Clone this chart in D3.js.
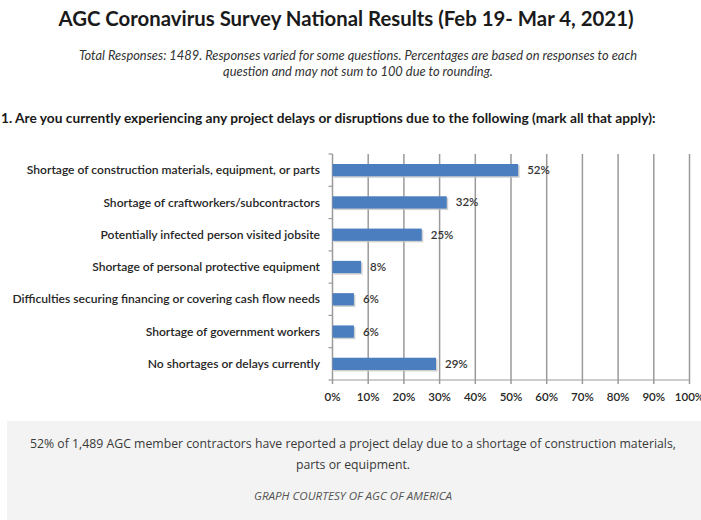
<!DOCTYPE html>
<html><head><meta charset="utf-8">
<script src="https://cdn.jsdelivr.net/npm/d3@7"></script>
<style>
html,body{margin:0;padding:0;background:#fff;}
svg{display:block;}
</style></head>
<body>
<svg id="chart" width="701" height="520"></svg>
<script>
const categories = [
  "Shortage of construction materials, equipment, or parts",
  "Shortage of craftworkers/subcontractors",
  "Potentially infected person visited jobsite",
  "Shortage of personal protective equipment",
  "Difficulties securing financing or covering cash flow needs",
  "Shortage of government workers",
  "No shortages or delays currently"
];
const values = [52, 32, 25, 8, 6, 6, 29];
const valueLabels = ["52%", "32%", "25%", "8%", "6%", "6%", "29%"];
const xTicks = [0, 10, 20, 30, 40, 50, 60, 70, 80, 90, 100];

const titleText = "AGC Coronavirus Survey National Results (Feb 19- Mar 4, 2021)";
const subtitleLines = [
  "Total Responses: 1489. Responses varied for some questions. Percentages are based on responses to each",
  "question and may not sum to 100 due to rounding."
];
const questionText = "1. Are you currently experiencing any project delays or disruptions due to the following (mark all that apply):";
const captionLines = [
  "52% of 1,489 AGC member contractors have reported a project delay due to a shortage of construction materials,",
  "parts or equipment."
];
const creditText = "GRAPH COURTESY OF AGC OF AMERICA";

const svg = d3.select("#chart");
const chartFont = "Lato, 'Open Sans', sans-serif";

function fitWidth(sel, target) {
  const node = sel.node();
  let fs = parseFloat(sel.attr("font-size"));
  for (let i = 0; i < 3; i++) {
    const w = node.getComputedTextLength();
    if (w > 0) { fs = fs * target / w; sel.attr("font-size", fs.toFixed(2)); }
  }
}

// Title
const t = svg.append("text").attr("x", 346).attr("y", 26).attr("text-anchor", "middle")
  .attr("font-family", chartFont).attr("font-weight", 700).attr("font-size", 18)
  .attr("fill", "#1a1a1a").text(titleText);
fitWidth(t, 575);

subtitleLines.forEach((s, i) => {
  const st = svg.append("text").attr("x", 358).attr("y", 60 + i * 16).attr("text-anchor", "middle")
    .attr("font-family", chartFont).attr("font-style", "italic").attr("font-size", 11)
    .attr("fill", "#333").text(s);
  if (i === 0) fitWidth(st, 558);
  else st.attr("font-size", svg.select("text:nth-of-type(2)").attr("font-size"));
});

const q = svg.append("text").attr("x", 1).attr("y", 123)
  .attr("font-family", chartFont).attr("font-weight", 700).attr("font-size", 13)
  .attr("fill", "#1a1a1a").text(questionText);
fitWidth(q, 654);

// Chart
const x = d3.scaleLinear().domain([0, 100]).range([332.5, 689.5]);
const y = d3.scaleBand().domain(categories).range([154, 380]).paddingInner(0.62).paddingOuter(0.31);

const g = svg.append("g");

// Gridlines
g.selectAll("line.grid").data(xTicks).join("line")
  .attr("x1", d => x(d)).attr("x2", d => x(d))
  .attr("y1", 154).attr("y2", 384)
  .attr("stroke", "#9a9a9a").attr("stroke-width", 1.5);

// bottom axis line
g.append("line").attr("x1", x(0)).attr("x2", x(100)).attr("y1", 380).attr("y2", 380)
  .attr("stroke", "#9a9a9a").attr("stroke-width", 1.2);

// Left ticks at category boundaries
const step = y.step();
const boundaries = d3.range(categories.length + 1).map(i => 154 + i * (226 / categories.length));
g.selectAll("line.ltick").data(boundaries).join("line")
  .attr("x1", x(0) - 4).attr("x2", x(0))
  .attr("y1", d => d).attr("y2", d => d)
  .attr("stroke", "#9a9a9a").attr("stroke-width", 1.2);

// bar shadows
g.selectAll("rect.shadow").data(values).join("rect")
  .attr("x", x(0) + 1.5).attr("y", (d, i) => y(categories[i]) + 1.5)
  .attr("width", d => x(d) - x(0)).attr("height", y.bandwidth())
  .attr("fill", "#c4c4c4").attr("opacity", 0.8);

// bars
g.selectAll("rect.bar").data(values).join("rect")
  .attr("x", x(0)).attr("y", (d, i) => y(categories[i]))
  .attr("width", d => x(d) - x(0)).attr("height", y.bandwidth())
  .attr("fill", "#4a7ebf");

// value labels
g.selectAll("text.val").data(values).join("text")
  .attr("x", d => x(d) + 9).attr("y", (d, i) => y(categories[i]) + y.bandwidth() / 2 + 1)
  .attr("dominant-baseline", "middle")
  .attr("font-family", chartFont).attr("font-weight", 600).attr("font-size", 11.5)
  .attr("fill", "#333").text((d, i) => valueLabels[i]);

// category labels
const catLabels = g.selectAll("text.cat").data(categories).join("text")
  .attr("x", 320).attr("y", d => y(d) + y.bandwidth() / 2 + 1)
  .attr("text-anchor", "end").attr("dominant-baseline", "middle")
  .attr("font-family", chartFont).attr("font-weight", 600).attr("font-size", 11.5)
  .attr("fill", "#262626").text(d => d);
fitWidth(d3.select(catLabels.nodes()[0]), 293);
catLabels.attr("font-size", d3.select(catLabels.nodes()[0]).attr("font-size"));

// x tick labels
g.selectAll("text.xt").data(xTicks).join("text")
  .attr("x", d => x(d)).attr("y", 398).attr("text-anchor", "middle").attr("dominant-baseline", "middle")
  .attr("font-family", chartFont).attr("font-weight", 600).attr("font-size", 11.5)
  .attr("fill", "#262626").text(d => d + "%");

// caption box
svg.append("rect").attr("x", 7).attr("y", 421).attr("width", 694).attr("height", 99).attr("fill", "#f3f3f3");
captionLines.forEach((s, i) => {
  const c = svg.append("text").attr("x", 353).attr("y", 448 + i * 21).attr("text-anchor", "middle")
    .attr("font-family", "'Open Sans', Lato, sans-serif").attr("font-size", 12.5)
    .attr("fill", "#3a3a3a").attr("class", "cap").text(s);
  if (i === 0) fitWidth(c, 646);
});
const capFs = svg.select("text.cap").attr("font-size");
svg.selectAll("text.cap").attr("font-size", capFs);

const cr = svg.append("text").attr("x", 353).attr("y", 500).attr("text-anchor", "middle")
  .attr("font-family", "'Open Sans', Lato, sans-serif").attr("font-style", "italic").attr("font-size", 9)
  .attr("fill", "#555").text(creditText);
fitWidth(cr, 198);
</script>
</body></html>
